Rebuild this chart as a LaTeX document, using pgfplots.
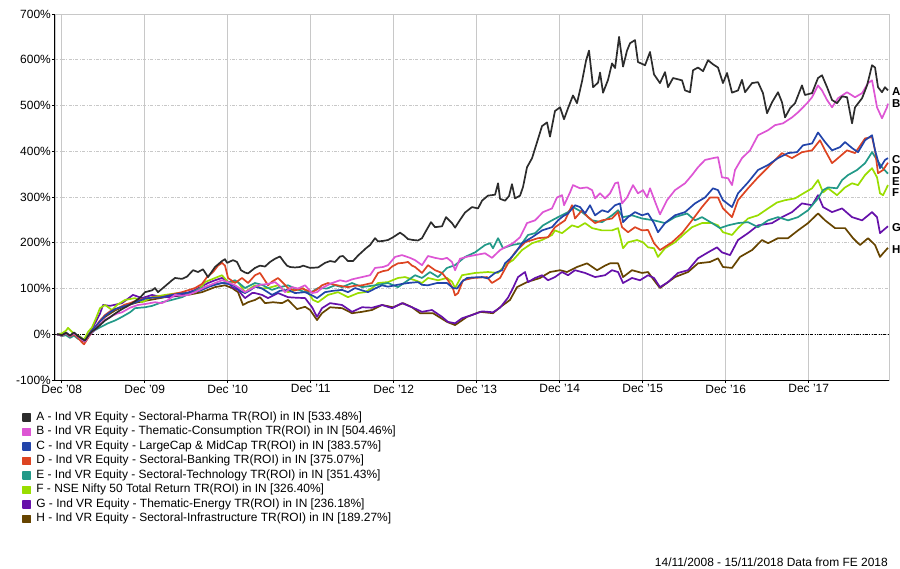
\documentclass[border=0pt]{standalone}
\usepackage{pgfplots}
\pgfplotsset{compat=1.18}
\usepackage{pgfplotstable}
\usepackage{fontspec}
\setmainfont{Liberation Sans}
\definecolor{cA}{RGB}{44,44,44}
\definecolor{cB}{RGB}{221,85,212}
\definecolor{cC}{RGB}{34,68,170}
\definecolor{cD}{RGB}{221,68,34}
\definecolor{cE}{RGB}{34,153,136}
\definecolor{cF}{RGB}{153,221,0}
\definecolor{cG}{RGB}{102,17,170}
\definecolor{cH}{RGB}{102,68,0}
\definecolor{gridc}{RGB}{200,200,200}

\pgfplotstableread{
t v
-0.057 0
0.004 -2
0.052 3
0.100 -3
0.148 4
0.196 -4
0.245 -10
0.281 -14
0.317 -4
0.365 6
0.413 12
0.461 20
0.522 30
0.582 37
0.618 42
0.666 48
0.727 55
0.799 62
0.883 72
0.943 80
1.004 92
1.088 96
1.124 101
1.160 92
1.245 105
1.329 118
1.365 123
1.449 121
1.510 126
1.582 140
1.642 136
1.702 142
1.763 125
1.847 147
1.931 160
1.967 164
1.992 156
2.064 162
2.112 158
2.160 140
2.208 135
2.245 133
2.329 145
2.389 150
2.449 148
2.510 158
2.570 165
2.630 170
2.678 158
2.714 150
2.751 147
2.811 146
2.871 147
2.908 150
2.992 145
3.088 146
3.172 156
3.233 160
3.293 158
3.353 170
3.389 171
3.449 160
3.510 160
3.570 172
3.618 180
3.666 188
3.715 195
3.775 210
3.811 203
3.871 204
3.931 206
3.992 212
4.076 222
4.124 216
4.172 208
4.233 206
4.293 205
4.341 210
4.377 222
4.449 245
4.498 234
4.582 236
4.630 256
4.702 243
4.739 233
4.799 250
4.859 266
4.943 278
5.016 275
5.064 292
5.136 303
5.221 305
5.257 330
5.281 296
5.341 292
5.389 302
5.425 328
5.461 297
5.522 303
5.558 322
5.606 365
5.667 385
5.727 420
5.787 455
5.847 463
5.883 432
5.943 488
6.004 496
6.052 470
6.100 494
6.160 522
6.208 505
6.269 553
6.317 598
6.353 620
6.402 540
6.462 550
6.486 572
6.522 528
6.582 556
6.630 592
6.667 582
6.715 650
6.763 585
6.811 620
6.847 636
6.907 643
6.943 595
7.028 588
7.088 617
7.136 568
7.208 549
7.269 573
7.305 540
7.365 560
7.474 555
7.510 533
7.570 529
7.606 577
7.666 583
7.727 575
7.787 599
7.847 590
7.907 583
7.967 549
8.016 571
8.076 528
8.148 533
8.196 556
8.233 529
8.317 549
8.389 551
8.449 527
8.498 483
8.558 507
8.630 529
8.678 507
8.715 474
8.775 494
8.835 505
8.919 544
8.955 523
9.040 527
9.112 560
9.160 566
9.221 540
9.281 512
9.341 505
9.402 520
9.462 518
9.522 461
9.558 496
9.643 516
9.703 544
9.763 588
9.799 583
9.835 540
9.883 529
9.919 540
9.955 533
}\tA

\pgfplotstableread{
t v
-0.057 0
0.004 -3
0.052 2
0.100 -4
0.148 2
0.196 -5
0.245 -12
0.281 -16
0.317 -6
0.365 4
0.413 12
0.461 22
0.522 32
0.582 38
0.666 45
0.727 48
0.823 58
0.919 64
1.004 66
1.064 68
1.124 70
1.208 68
1.281 75
1.365 86
1.449 84
1.522 86
1.606 92
1.727 103
1.847 112
1.931 118
2.004 114
2.088 107
2.148 100
2.208 92
2.269 98
2.329 104
2.389 108
2.486 110
2.570 114
2.630 105
2.690 92
2.775 103
2.847 100
2.932 107
3.016 90
3.076 92
3.136 101
3.257 112
3.353 118
3.425 115
3.498 120
3.618 125
3.715 129
3.775 145
3.871 147
3.931 151
4.016 169
4.100 173
4.196 167
4.257 162
4.341 151
4.413 171
4.498 167
4.582 164
4.642 167
4.702 158
4.739 140
4.799 165
4.895 170
4.980 173
5.100 177
5.184 167
5.281 184
5.341 190
5.437 199
5.522 212
5.606 243
5.703 249
5.799 267
5.907 275
5.967 299
6.028 304
6.052 282
6.124 310
6.160 326
6.245 319
6.329 321
6.390 315
6.426 297
6.486 308
6.546 297
6.606 308
6.667 330
6.703 332
6.751 286
6.811 299
6.883 326
6.943 308
7.004 315
7.052 299
7.088 319
7.148 290
7.208 262
7.293 293
7.389 315
7.510 330
7.594 348
7.666 365
7.751 381
7.847 385
7.907 387
7.955 343
8.028 341
8.076 326
8.112 359
8.196 385
8.293 402
8.389 435
8.510 446
8.594 457
8.690 461
8.799 474
8.871 485
8.980 505
9.040 518
9.112 544
9.160 533
9.221 512
9.281 496
9.353 516
9.462 529
9.558 518
9.643 527
9.715 549
9.763 555
9.823 496
9.883 472
9.943 496
9.955 504
}\tB

\pgfplotstableread{
t v
-0.057 0
0.004 -2
0.052 3
0.100 -3
0.148 3
0.196 -4
0.245 -10
0.281 -14
0.317 -4
0.365 8
0.413 18
0.461 28
0.522 40
0.582 48
0.642 55
0.727 60
0.823 65
0.919 72
1.004 78
1.088 80
1.184 80
1.305 85
1.401 88
1.486 90
1.570 92
1.666 95
1.763 103
1.847 108
1.931 112
2.004 110
2.088 105
2.148 95
2.208 90
2.269 96
2.329 104
2.413 100
2.534 86
2.630 95
2.727 97
2.811 90
2.932 92
3.016 85
3.076 79
3.172 92
3.269 95
3.377 97
3.449 92
3.534 101
3.618 96
3.690 92
3.775 100
3.859 107
3.931 104
4.016 107
4.100 110
4.172 112
4.293 114
4.341 108
4.413 107
4.522 112
4.642 112
4.714 101
4.763 100
4.823 115
4.883 123
4.943 124
5.064 125
5.136 122
5.221 134
5.305 140
5.341 155
5.401 165
5.461 177
5.546 199
5.667 212
5.787 227
5.907 234
5.980 249
6.040 258
6.100 264
6.184 282
6.245 278
6.305 264
6.365 282
6.426 260
6.510 271
6.582 267
6.667 282
6.727 286
6.763 245
6.823 256
6.907 267
6.992 260
7.064 264
7.136 243
7.184 223
7.269 243
7.389 260
7.510 267
7.630 286
7.751 299
7.847 319
7.907 315
7.967 293
8.076 278
8.148 308
8.269 332
8.389 359
8.510 370
8.630 385
8.751 396
8.859 398
8.931 413
9.040 417
9.112 441
9.197 420
9.281 402
9.377 409
9.438 420
9.522 407
9.594 398
9.679 424
9.763 435
9.799 402
9.859 363
9.919 381
9.955 385
}\tC

\pgfplotstableread{
t v
-0.057 0
0.004 -3
0.052 2
0.100 -5
0.148 0
0.196 -8
0.245 -18
0.269 -22
0.317 -8
0.365 5
0.413 18
0.461 30
0.522 42
0.582 50
0.678 57
0.763 65
0.823 68
0.919 75
1.004 78
1.064 80
1.208 81
1.305 86
1.449 92
1.606 101
1.690 110
1.751 125
1.823 136
1.883 150
1.931 156
1.967 150
2.004 123
2.088 112
2.172 123
2.245 112
2.329 129
2.389 134
2.486 107
2.534 115
2.606 123
2.678 110
2.727 101
2.811 96
2.895 100
2.968 95
3.016 92
3.076 98
3.136 107
3.208 112
3.293 108
3.377 105
3.449 103
3.534 106
3.618 107
3.690 110
3.739 112
3.811 134
3.871 138
3.931 140
3.980 148
4.052 155
4.113 156
4.172 158
4.221 150
4.257 147
4.341 134
4.413 151
4.498 140
4.582 134
4.654 118
4.714 100
4.739 85
4.775 90
4.835 118
4.955 123
5.124 125
5.184 112
5.281 123
5.377 155
5.461 179
5.582 201
5.739 210
5.859 212
5.943 234
6.064 249
6.148 282
6.184 253
6.269 271
6.341 256
6.426 243
6.510 249
6.630 253
6.703 267
6.751 234
6.823 223
6.907 234
6.992 227
7.064 228
7.136 199
7.208 184
7.353 201
7.474 221
7.594 249
7.714 278
7.811 299
7.907 299
7.967 275
8.076 256
8.148 293
8.269 319
8.389 343
8.510 365
8.678 396
8.799 385
8.919 398
9.040 402
9.136 424
9.197 402
9.281 374
9.353 385
9.462 402
9.558 396
9.679 428
9.763 431
9.799 402
9.835 352
9.896 359
9.955 375
}\tD

\pgfplotstableread{
t v
-0.057 0
0.004 -4
0.052 -2
0.100 -8
0.148 -3
0.196 -10
0.245 -12
0.293 -14
0.341 0
0.401 9
0.461 15
0.558 24
0.642 30
0.727 38
0.823 48
0.883 57
0.943 58
1.004 59
1.088 62
1.208 70
1.305 74
1.449 81
1.570 92
1.690 101
1.811 108
1.931 112
2.004 113
2.088 118
2.148 110
2.208 101
2.329 112
2.413 108
2.534 97
2.630 103
2.727 107
2.811 100
2.932 92
3.016 93
3.088 101
3.196 100
3.293 107
3.377 103
3.498 112
3.618 103
3.775 107
3.931 112
4.052 103
4.172 118
4.257 129
4.341 123
4.437 136
4.534 125
4.642 145
4.739 151
4.859 169
4.980 179
5.100 195
5.160 199
5.196 188
5.257 210
5.317 188
5.425 195
5.546 199
5.618 217
5.703 221
5.799 238
5.907 249
5.980 256
6.100 267
6.160 278
6.269 267
6.390 249
6.510 245
6.630 260
6.703 271
6.763 256
6.871 260
6.992 253
7.136 249
7.269 243
7.389 256
7.534 264
7.630 249
7.714 256
7.835 243
7.931 232
8.028 238
8.148 243
8.269 245
8.389 234
8.510 249
8.630 256
8.751 249
8.871 256
8.992 271
9.112 297
9.173 315
9.233 321
9.341 319
9.402 337
9.474 348
9.582 359
9.679 374
9.763 398
9.823 381
9.883 365
9.955 351
}\tE

\pgfplotstableread{
t v
-0.057 0
0.004 2
0.052 8
0.076 14
0.124 5
0.160 0
0.220 -5
0.269 -12
0.317 5
0.365 15
0.413 35
0.461 57
0.522 64
0.606 53
0.666 64
0.763 75
0.883 79
0.967 70
1.088 81
1.245 86
1.401 90
1.570 90
1.666 100
1.727 114
1.847 123
1.931 129
2.004 114
2.124 114
2.208 92
2.269 100
2.329 107
2.413 100
2.486 101
2.606 107
2.666 98
2.727 92
2.811 96
2.908 101
2.992 85
3.028 75
3.088 70
3.208 86
3.329 92
3.449 81
3.570 90
3.654 92
3.739 101
3.811 112
3.931 114
4.052 123
4.136 125
4.257 118
4.341 112
4.413 123
4.534 118
4.642 123
4.702 115
4.739 101
4.823 129
4.980 134
5.136 136
5.257 134
5.341 151
5.437 162
5.546 184
5.667 199
5.787 206
5.907 217
5.943 227
6.028 221
6.148 238
6.221 234
6.305 243
6.390 232
6.510 227
6.630 227
6.703 232
6.763 188
6.823 201
6.931 206
7.004 201
7.064 190
7.136 188
7.184 169
7.269 188
7.389 201
7.510 221
7.594 234
7.714 243
7.835 243
7.907 238
7.967 223
8.076 217
8.148 232
8.269 253
8.389 260
8.510 275
8.618 288
8.715 293
8.835 297
8.955 310
9.040 319
9.112 337
9.173 310
9.233 319
9.341 304
9.438 321
9.522 330
9.594 326
9.679 348
9.763 363
9.823 343
9.859 308
9.896 304
9.955 326
}\tF

\pgfplotstableread{
t v
-0.057 0
0.004 -2
0.052 4
0.100 -4
0.148 2
0.196 -6
0.245 -12
0.281 -16
0.317 -3
0.365 12
0.413 28
0.461 45
0.498 64
0.582 62
0.727 68
0.859 86
0.967 79
1.088 86
1.184 82
1.281 81
1.449 86
1.606 97
1.763 112
1.847 118
1.931 123
2.004 115
2.052 103
2.124 97
2.208 79
2.293 90
2.329 90
2.413 86
2.486 79
2.606 90
2.727 81
2.811 80
2.932 79
3.016 59
3.076 38
3.136 57
3.233 68
3.377 64
3.498 49
3.618 59
3.739 58
3.859 64
3.980 57
4.100 68
4.221 59
4.341 49
4.461 53
4.582 38
4.654 27
4.739 24
4.823 35
4.943 42
5.064 50
5.196 48
5.281 58
5.377 80
5.437 101
5.498 125
5.582 136
5.618 114
5.703 123
5.787 129
5.859 118
5.943 125
6.028 136
6.100 129
6.184 140
6.305 134
6.426 125
6.546 129
6.630 140
6.703 136
6.763 112
6.871 123
6.967 118
7.064 129
7.136 123
7.208 103
7.305 114
7.425 134
7.546 140
7.666 166
7.787 179
7.895 190
7.955 179
8.052 173
8.148 206
8.269 221
8.389 238
8.558 243
8.678 256
8.799 267
8.919 286
9.040 282
9.112 304
9.173 278
9.281 267
9.402 275
9.522 256
9.643 249
9.763 267
9.823 256
9.859 221
9.896 227
9.955 236
}\tG

\pgfplotstableread{
t v
-0.057 0
0.004 -3
0.052 2
0.100 -5
0.148 0
0.196 -7
0.245 -14
0.281 -17
0.317 -6
0.365 5
0.413 15
0.461 28
0.522 38
0.642 52
0.763 62
0.919 70
1.064 75
1.245 81
1.522 86
1.690 92
1.847 103
1.967 107
2.052 101
2.124 92
2.184 64
2.245 70
2.329 75
2.389 81
2.449 68
2.546 70
2.654 68
2.727 75
2.835 55
2.932 60
2.992 53
3.076 31
3.136 46
3.233 59
3.377 57
3.498 46
3.618 49
3.739 53
3.859 64
3.992 59
4.113 68
4.221 59
4.317 46
4.473 46
4.642 27
4.739 20
4.883 38
5.040 49
5.196 46
5.281 59
5.401 75
5.486 103
5.606 114
5.763 123
5.883 136
6.004 140
6.088 136
6.208 147
6.329 155
6.450 140
6.546 150
6.606 155
6.703 155
6.763 125
6.871 140
6.992 134
7.064 136
7.136 118
7.208 101
7.389 125
7.546 136
7.666 155
7.811 158
7.907 166
7.967 147
8.076 145
8.172 169
8.317 184
8.437 206
8.510 199
8.630 210
8.751 210
8.871 227
8.992 243
9.112 264
9.197 249
9.317 232
9.438 232
9.534 210
9.618 195
9.715 210
9.799 195
9.859 169
9.896 177
9.955 189
}\tH

\begin{document}
\begin{tikzpicture}
\path[use as bounding box] (0,0) rectangle (900bp,569bp);
\begin{axis}[
  at={(55bp,189bp)}, anchor=south west,
  scale only axis, width=834.3bp, height=366bp,
  xmin=-0.081, xmax=9.971, ymin=-100, ymax=700,
  xtick={0,1,2,3,4,5,6,7,8,9},
  xticklabels={Dec '08,Dec '09,Dec '10,Dec '11,Dec '12,Dec '13,Dec '14,Dec '15,Dec '16,Dec '17},
  ytick={-100,0,100,200,300,400,500,600,700},
  yticklabels={-100\%,0\%,100\%,200\%,300\%,400\%,500\%,600\%,700\%},
  xtick pos=left, ytick pos=left,
  tick align=outside, major tick length=3bp,
  tick style={black, line width=0.6bp},
  grid=major,
  x grid style={color=gridc, line width=0.7bp},
  y grid style={color=gridc, line width=0.6bp, dash pattern=on 3bp off 1.5bp on 0.8bp off 1.5bp},
  axis line style={color=gridc, line width=0.8bp},
  tick label style={font=\fontsize{12}{14}\selectfont},
  yticklabel style={inner sep=1bp},
  xticklabel style={inner sep=1.5bp},
  /pgf/number format/assume math mode=true,
  clip mode=individual,
  every axis plot/.append style={line width=1.7bp, line join=round},
  reverse legend,
  legend cell align=left,
  legend style={at={(-0.0396,-0.085)}, anchor=north west, draw=none, fill=none,
    inner sep=0pt, font=\fontsize{12}{14}\selectfont, row sep=2bp, column sep=4bp,
    nodes={inner sep=1bp, text height=8bp, text depth=2.5bp}},
  legend image code/.code={\fill[#1] (0bp,-3.5bp) rectangle (7.5bp,3.5bp);},
]
\draw[black, line width=0.7bp, dash pattern=on 3bp off 1.5bp on 0.8bp off 1.5bp on 0.8bp off 1.5bp] (axis cs:-0.081,0) -- (axis cs:9.971,0);
\addplot[cH] table[x=t,y=v] {\tH};
\addlegendentry{H - Ind VR Equity - Sectoral-Infrastructure TR(ROI) in IN [189.27\%]}
\addplot[cG] table[x=t,y=v] {\tG};
\addlegendentry{G - Ind VR Equity - Thematic-Energy TR(ROI) in IN [236.18\%]}
\addplot[cF] table[x=t,y=v] {\tF};
\addlegendentry{F - NSE Nifty 50 Total Return TR(ROI) in IN [326.40\%]}
\addplot[cE] table[x=t,y=v] {\tE};
\addlegendentry{E - Ind VR Equity - Sectoral-Technology TR(ROI) in IN [351.43\%]}
\addplot[cD] table[x=t,y=v] {\tD};
\addlegendentry{D - Ind VR Equity - Sectoral-Banking TR(ROI) in IN [375.07\%]}
\addplot[cC] table[x=t,y=v] {\tC};
\addlegendentry{C - Ind VR Equity - LargeCap \& MidCap TR(ROI) in IN [383.57\%]}
\addplot[cB] table[x=t,y=v] {\tB};
\addlegendentry{B - Ind VR Equity - Thematic-Consumption TR(ROI) in IN [504.46\%]}
\addplot[cA] table[x=t,y=v] {\tA};
\addlegendentry{A - Ind VR Equity - Sectoral-Pharma TR(ROI) in IN [533.48\%]}
\draw[black, line width=1bp] (rel axis cs:0,1) -- (rel axis cs:0,0) -- (rel axis cs:1,0);
\begin{scope}[every node/.style={anchor=west, inner sep=0pt, xshift=2.5bp, font=\bfseries\fontsize{11.5}{13}\selectfont}]
\node at (axis cs:9.971,529.7) {A};
\node at (axis cs:9.971,504.6) {B};
\node at (axis cs:9.971,382) {C};
\node at (axis cs:9.971,358.6) {D};
\node at (axis cs:9.971,334.7) {E};
\node at (axis cs:9.971,310) {F};
\node at (axis cs:9.971,234) {G};
\node at (axis cs:9.971,184.3) {H};
\end{scope}
\end{axis}
\node[anchor=base east, inner sep=0pt, font=\fontsize{12}{14}\selectfont] at (888bp,2.5bp) {14/11/2008 - 15/11/2018 Data from FE 2018};
\end{tikzpicture}
\end{document}
